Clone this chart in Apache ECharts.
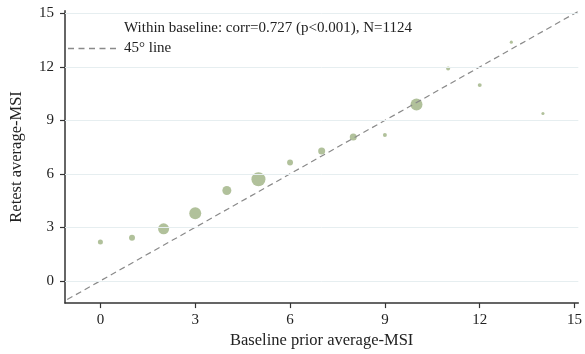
<!DOCTYPE html>
<html><head><meta charset="utf-8">
<script src="https://cdn.jsdelivr.net/npm/echarts@6/dist/echarts.min.js"></script>
<style>html,body{margin:0;padding:0;background:#fff}#c{width:585px;height:354px}</style>
</head><body><div id="c"></div>
<script>
// Data
const baseline = [0,1,2,3,4,5,6,7,8,9,10,11,12,13,14];
const retest   = [2.18,2.42,2.92,3.79,5.07,5.70,6.64,7.29,8.07,8.18,9.89,11.91,10.98,13.39,9.39];
const weight   = [13,18,62,73,41,100,18,25,25,8,73,8,8,5,5]; // relative N per bin (estimated)
const tickVals = [0,3,6,9,12,15];
const lineEnds = [-1.05, 15.12];
const seriesName = 'Within baseline: corr=0.727 (p<0.001), N=1124';
const lineName = '45° line';

const FONT = '"Liberation Serif", "DejaVu Serif", serif';
const pts = baseline.map((x,i)=>[x, retest[i], weight[i]]);
const dashIcon = 'path://M0,0h6v1.3h-6z M10.5,0h6v1.3h-6z M21,0h6v1.3h-6z M31.5,0h6v1.3h-6z M42,0h6v1.3h-6z';

const chart = echarts.init(document.getElementById('c'), null, {renderer:'canvas'});
chart.setOption({
  animation:false,
  textStyle:{fontFamily:FONT},
  grid:{left:58.7, right:3.9, top:10.8, bottom:48, containLabel:false},
  legend:{
    orient:'vertical', left:63, top:16, itemWidth:48, itemHeight:1.3, itemGap:5,
    symbolKeepAspect:false,
    textStyle:{fontFamily:FONT, fontSize:15, color:'#222', padding:[0,0,0,3]},
    data:[{name:seriesName, icon:'none'}, {name:lineName, icon:dashIcon, itemStyle:{color:'#8a8a8a'}}]
  },
  xAxis:{
    type:'value', min:-1.12, max:15.12,
    name:'Baseline prior average-MSI', nameLocation:'middle', nameGap:28,
    nameTextStyle:{fontFamily:FONT, fontSize:16.5, color:'#222'},
    axisLine:{show:true, onZero:false, lineStyle:{color:'#333', width:1.5}},
    axisTick:{show:true, length:5, customValues:tickVals, lineStyle:{color:'#333', width:1.2}},
    axisLabel:{customValues:tickVals, margin:9, fontFamily:FONT, fontSize:15, color:'#222'},
    splitLine:{show:false}
  },
  yAxis:{
    type:'value', min:-1.25, max:15.15,
    name:'Retest average-MSI', nameLocation:'middle', nameGap:40, nameRotate:90,
    nameTextStyle:{fontFamily:FONT, fontSize:16.5, color:'#222'},
    axisLine:{show:true, onZero:false, lineStyle:{color:'#333', width:1.5}},
    axisTick:{show:true, length:5, customValues:tickVals, lineStyle:{color:'#333', width:1.2}},
    axisLabel:{customValues:tickVals, margin:11, fontFamily:FONT, fontSize:15, color:'#222'},
    splitLine:{show:false}
  },
  series:[
    {
      name:'grid', type:'line', data:[], silent:true,
      markLine:{
        silent:true, symbol:'none', label:{show:false},
        lineStyle:{color:'#e6eef0', width:1, type:'solid'},
        data: tickVals.map(v=>({yAxis:v}))
      }
    },
    {
      name:lineName, type:'line', data:lineEnds.map(v=>[v,v]),
      symbol:'none', silent:true,
      lineStyle:{color:'#8a8a8a', width:1.2, type:[6,4]}, z:3
    },
    {
      name:seriesName, type:'scatter', data:pts,
      symbolSize: d => 14*Math.sqrt(d[2]/100),
      itemStyle:{color:'#a3b68a', opacity:0.85}, z:2
    }
  ]
});
</script></body></html>
